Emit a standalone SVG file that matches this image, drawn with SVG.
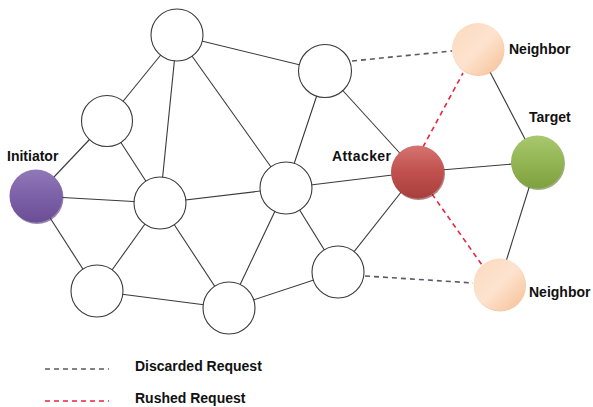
<svg xmlns="http://www.w3.org/2000/svg" width="593" height="407" viewBox="0 0 593 407">
<defs>
<style>
.e{stroke:#3a3a3a;stroke-width:1.1;fill:none}
.gd{stroke:#5a5a66;stroke-width:1.6;stroke-dasharray:5 4;fill:none}
.rd{stroke:#e8253f;stroke-width:1.6;stroke-dasharray:5 4;fill:none}
.n{fill:#fff;stroke:#3a3a3a;stroke-width:1.1}
.lbl{font-family:"Liberation Sans",Arial,sans-serif;font-weight:bold;font-size:14px;fill:#111}
</style>
<linearGradient id="gP" x1="0" y1="0" x2="0" y2="1"><stop offset="0" stop-color="#9079b8"/><stop offset="0.5" stop-color="#7c60a8"/><stop offset="1" stop-color="#6a4d95"/></linearGradient>
<linearGradient id="gR" x1="0" y1="0" x2="0" y2="1"><stop offset="0" stop-color="#d57471"/><stop offset="0.5" stop-color="#c0504d"/><stop offset="1" stop-color="#a83f3c"/></linearGradient>
<linearGradient id="gG" x1="0" y1="0" x2="0" y2="1"><stop offset="0" stop-color="#a9c86e"/><stop offset="0.5" stop-color="#93b553"/><stop offset="1" stop-color="#7fa03f"/></linearGradient>
<linearGradient id="gN" x1="0" y1="0" x2="1" y2="1"><stop offset="0" stop-color="#fcd9bd"/><stop offset="0.5" stop-color="#fde3cf"/><stop offset="1" stop-color="#f6bf93"/></linearGradient>
</defs>
<g id="connectors">
<line class="e" x1="177" y1="35" x2="107" y2="121"/>
<line class="e" x1="177" y1="35" x2="160" y2="203"/>
<line class="e" x1="177" y1="35" x2="286" y2="188"/>
<line class="e" x1="177" y1="35" x2="325" y2="71"/>
<line class="e" x1="107" y1="121" x2="36" y2="196"/>
<line class="e" x1="107" y1="121" x2="160" y2="203"/>
<line class="e" x1="36" y1="196" x2="160" y2="203"/>
<line class="e" x1="36" y1="196" x2="97" y2="291"/>
<line class="e" x1="160" y1="203" x2="97" y2="291"/>
<line class="e" x1="160" y1="203" x2="229" y2="308"/>
<line class="e" x1="160" y1="203" x2="286" y2="188"/>
<line class="e" x1="97" y1="291" x2="229" y2="308"/>
<line class="e" x1="229" y1="308" x2="286" y2="188"/>
<line class="e" x1="229" y1="308" x2="338" y2="272"/>
<line class="e" x1="286" y1="188" x2="325" y2="71"/>
<line class="e" x1="286" y1="188" x2="338" y2="272"/>
<line class="e" x1="286" y1="188" x2="417" y2="172"/>
<line class="e" x1="325" y1="71" x2="417" y2="172"/>
<line class="e" x1="338" y1="272" x2="417" y2="172"/>
<line class="e" x1="417" y1="172" x2="537" y2="162"/>
<line class="e" x1="537" y1="162" x2="478" y2="49"/>
<line class="e" x1="537" y1="162" x2="499" y2="284"/>
<line class="rd" x1="423" y1="147" x2="463" y2="73"/>
<line class="rd" x1="432" y1="194" x2="482" y2="265"/>
<line class="gd" x1="352" y1="61" x2="452" y2="51"/>
<line class="gd" x1="365" y1="276" x2="473" y2="283"/>
</g>
<g id="n1"><circle class="n" cx="177" cy="35" r="26"/></g>
<g id="n2"><circle class="n" cx="107" cy="121" r="25.5"/></g>
<g id="n3"><circle class="n" cx="160" cy="203" r="26"/></g>
<g id="n4"><circle class="n" cx="97" cy="291" r="26"/></g>
<g id="n5"><circle class="n" cx="229" cy="308" r="26"/></g>
<g id="n6"><circle class="n" cx="286" cy="188" r="26"/></g>
<g id="n7"><circle class="n" cx="325" cy="71" r="26.5"/></g>
<g id="n8"><circle class="n" cx="338" cy="272" r="26"/></g>
<g id="initiator">
<circle cx="37" cy="197.5" r="26.5" fill="#4d3770" opacity="0.6"/>
<circle cx="36" cy="196" r="26.5" fill="url(#gP)"/>
<text class="lbl" x="7" y="161">Initiator</text>
</g>
<g id="attacker">
<circle cx="418.5" cy="173.5" r="26.5" fill="#7e2b29" opacity="0.6"/>
<circle cx="417.5" cy="172" r="26.5" fill="url(#gR)"/>
<text class="lbl" x="332" y="161" textLength="59">Attacker</text>
</g>
<g id="target">
<circle cx="538.5" cy="163.5" r="26.5" fill="#5e7a2c" opacity="0.6"/>
<circle cx="537.5" cy="162" r="26.5" fill="url(#gG)"/>
<text class="lbl" x="529" y="122">Target</text>
</g>
<g id="neighbor-top">
<circle cx="478.5" cy="50" r="26" fill="#e9a874" opacity="0.6"/>
<circle cx="478" cy="49" r="26" fill="url(#gN)"/>
<text class="lbl" x="509" y="54">Neighbor</text>
</g>
<g id="neighbor-bottom">
<circle cx="500" cy="285.5" r="26" fill="#e9a874" opacity="0.6"/>
<circle cx="499.5" cy="284.5" r="26" fill="url(#gN)"/>
<text class="lbl" x="529" y="297">Neighbor</text>
</g>
<g id="legend">
<line class="gd" x1="45" y1="369" x2="109" y2="369"/>
<text class="lbl" x="135" y="371">Discarded Request</text>
<line class="rd" x1="45" y1="401" x2="109" y2="401"/>
<text class="lbl" x="135" y="403">Rushed Request</text>
</g>
</svg>
